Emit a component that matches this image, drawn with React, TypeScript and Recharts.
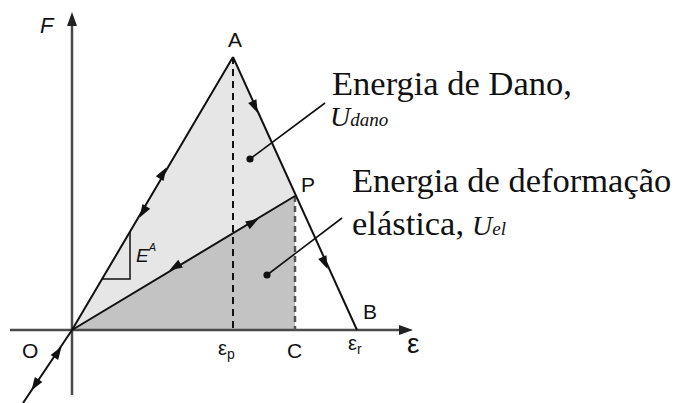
import { ComposedChart, Area, Scatter, XAxis, YAxis } from 'recharts'

// scale: 1 unit = 10 px on both axes
const W = 680
const H = 403
const xDomain = [-7.2, 60.8]
const yDomain = [-7.3, 33.0]

// key points of the F–ε curve
const peakA = { x: 16.1, y: 27.3 }
const pointP = { x: 22.3, y: 13.4 }
const rupture = { x: 28.5, y: 0 }

// energy regions (range areas)
const energyFill = [
  { x: 0, dano: [0, 0], el: [0, 0] },
  { x: 16.1, dano: [9.68, 27.3], el: [0, 9.68] },
  { x: 22.3, dano: [13.4, 13.4], el: [0, 13.4] },
]

const loadingPath = [{ x: -4.9, y: -7.3 }, { x: 0, y: 0 }, peakA]
const softeningPath = [peakA, rupture]
const unloadPath = [{ x: 0, y: 0 }, pointP]
const peakDrop = [peakA, { x: 16.1, y: 0 }]
const pDrop = [pointP, { x: 22.3, y: 0 }]
const stiffnessTri = [{ x: 3.0, y: 5.1 }, { x: 5.8, y: 5.1 }, { x: 5.8, y: 9.8 }]

const forceAxis = [{ x: 0, y: -6.5 }, { x: 0, y: 31.2 }]
const strainAxis = [{ x: -6.2, y: 0 }, { x: 33.6, y: 0 }]
const axisHeads = [
  { x: 0, y: 31.1, dx: 0, dy: 1 },
  { x: 33.4, y: 0, dx: 1, dy: 0 },
]

const pathArrows = [
  { x: 9.1, y: 15.7, dx: 161, dy: 273 },
  { x: 7.1, y: 11.8, dx: -161, dy: -273 },
  { x: 18.3, y: 22.3, dx: 12.4, dy: -27.3 },
  { x: 25.3, y: 6.7, dx: 12.4, dy: -27.3 },
  { x: 18.1, y: 10.8, dx: 22.3, dy: 13.4 },
  { x: 10.3, y: 6.3, dx: -22.3, dy: -13.4 },
  { x: -1.4, y: -2.2, dx: 4.9, dy: 7.3 },
  { x: -3.7, y: -5.5, dx: -4.9, dy: -7.3 },
]

const leaderDano = [{ x: 17.8, y: 17.1 }, { x: 25.3, y: 22.7 }]
const leaderEl = [{ x: 19.5, y: 5.5 }, { x: 27.0, y: 11.2 }]
const leaderDots = [leaderDano[0], leaderEl[0]]

const INK = '#111'
const AXIS = '#4a4a4a'
const SANS = '"Liberation Sans", Arial, sans-serif'
const SERIF = '"Liberation Serif", "Times New Roman", serif'

const NoDot = () => <g />

function makeHead(fill: string, len: number, half: number) {
  return (props: any) => {
    const { cx, cy, payload } = props
    const deg = (Math.atan2(-payload.dy, payload.dx) * 180) / Math.PI
    return (
      <polygon
        points={`${len / 2},0 ${-len / 2},${-half} ${-len / 2},${half}`}
        transform={`translate(${cx},${cy}) rotate(${deg})`}
        fill={fill}
      />
    )
  }
}

const Dot = (props: any) => <circle cx={props.cx} cy={props.cy} r={3.6} fill={INK} />

const solid = { stroke: INK, strokeWidth: 2 }

export default function App() {
  return (
    <div style={{ position: 'absolute', left: 0, top: 0, width: W, height: H, background: '#fff' }}>
      <ComposedChart
        width={W}
        height={H}
        data={energyFill}
        margin={{ top: 0, right: 0, bottom: 0, left: 0 }}
      >
        <XAxis type="number" dataKey="x" domain={xDomain} hide allowDataOverflow />
        <YAxis type="number" dataKey="y" domain={yDomain} hide allowDataOverflow />
        <Area type="linear" dataKey="dano" fill="#e6e6e6" fillOpacity={1} stroke="none" isAnimationActive={false} />
        <Area type="linear" dataKey="el" fill="#c3c3c3" fillOpacity={1} stroke="none" isAnimationActive={false} />

        <Scatter data={forceAxis} line={{ stroke: AXIS, strokeWidth: 2.5 }} shape={NoDot} isAnimationActive={false} />
        <Scatter data={strainAxis} line={{ stroke: AXIS, strokeWidth: 2.5 }} shape={NoDot} isAnimationActive={false} />
        <Scatter data={axisHeads} shape={makeHead('#222', 14, 5)} isAnimationActive={false} />

        <Scatter data={peakDrop} line={{ stroke: INK, strokeWidth: 2, strokeDasharray: '7 5' }} shape={NoDot} isAnimationActive={false} />
        <Scatter data={pDrop} line={{ stroke: '#555', strokeWidth: 2.5, strokeDasharray: '6 4' }} shape={NoDot} isAnimationActive={false} />

        <Scatter data={loadingPath} line={solid} lineType="joint" shape={NoDot} isAnimationActive={false} />
        <Scatter data={softeningPath} line={solid} shape={NoDot} isAnimationActive={false} />
        <Scatter data={unloadPath} line={solid} shape={NoDot} isAnimationActive={false} />
        <Scatter data={stiffnessTri} line={{ stroke: INK, strokeWidth: 1.5 }} lineType="joint" shape={NoDot} isAnimationActive={false} />
        <Scatter data={pathArrows} shape={makeHead(INK, 13, 4.5)} isAnimationActive={false} />

        <Scatter data={leaderDano} line={{ stroke: INK, strokeWidth: 1.6 }} shape={NoDot} isAnimationActive={false} />
        <Scatter data={leaderEl} line={{ stroke: INK, strokeWidth: 1.6 }} shape={NoDot} isAnimationActive={false} />
        <Scatter data={leaderDots} shape={Dot} isAnimationActive={false} />
      </ComposedChart>

      <svg width={W} height={H} style={{ position: 'absolute', left: 0, top: 0, pointerEvents: 'none' }}>
        <g fontFamily={SANS} fill="#111">
          <text x={40} y={33} fontSize={22} fontStyle="italic">F</text>
          <text x={228} y={47} fontSize={21}>A</text>
          <text x={301} y={192} fontSize={21}>P</text>
          <text x={363} y={319} fontSize={21}>B</text>
          <text x={287} y={358} fontSize={21}>C</text>
          <text x={22} y={358} fontSize={21}>O</text>
          <text x={218} y={355} fontSize={20}>
            ε<tspan fontSize={14} dy={4}>p</tspan>
          </text>
          <text x={348} y={350} fontSize={20}>
            ε<tspan fontSize={14} dy={4}>r</tspan>
          </text>
          <text x={407} y={353} fontSize={28}>ε</text>
          <text x={136} y={262} fontSize={19} fontStyle="italic">
            E<tspan fontSize={11} dy={-11}>A</tspan>
          </text>
        </g>
        <g fontFamily={SERIF} fill="#111">
          <text x={332} y={95} fontSize={34.5}>Energia de Dano,</text>
          <text x={330} y={126} fontStyle="italic">
            <tspan fontSize={28}>U</tspan>
            <tspan fontSize={19}>dano</tspan>
          </text>
          <text x={352} y={192} fontSize={34.5}>Energia de deformação</text>
          <text x={352} y={235} fontSize={34.5}>elástica,</text>
          <text x={472} y={235} fontStyle="italic">
            <tspan fontSize={28}>U</tspan>
            <tspan fontSize={19}>el</tspan>
          </text>
        </g>
      </svg>
    </div>
  )
}
